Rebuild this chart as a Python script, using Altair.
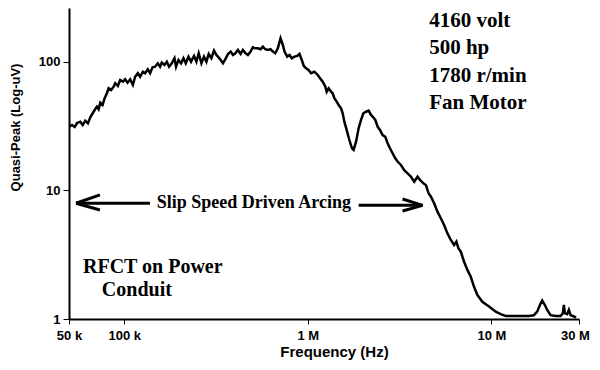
import altair as alt
import pandas as pd

# Spectrum trace (frequency in kHz, quasi-peak level in uV)
freq_khz = [50.2, 51.9, 53.7, 55.3, 57.6, 59.4, 61.3, 63.4, 65.3, 67.3, 69.0, 71.0, 72.5, 74.0, 76.2,
            78.2, 80.4, 82.2, 84.9, 87.5, 89.3, 92.3, 95.0, 98.3, 101.1, 104.2, 107.7, 111.4, 114.6,
            118.6, 122.0, 126.3, 129.9, 134.4, 138.3, 142.5, 147.2, 152.3, 156.7, 160.1, 165.6, 170.5,
            175.5, 181.5, 187.7, 191.5, 197.4, 203.9, 210.1, 216.3, 223.7, 231.1, 239.9, 247.2, 254.4,
            263.2, 271.9, 280.2, 288.4, 298.3, 308.2, 317.6, 324.0, 335.2, 345.0, 355.5, 367.3, 379.9,
            390.9, 402.8, 416.1, 430.4, 443.0, 458.2, 471.6, 487.7, 501.9, 517.3, 534.4, 552.8, 568.9,
            586.2, 605.6, 626.4, 644.7, 664.4, 686.4, 710.0, 730.8, 746.5, 772.2, 794.8, 818.0, 846.1,
            875.2, 900.6, 926.9, 950.4, 979.3, 1008, 1042, 1086, 1132, 1166, 1205, 1246, 1267, 1299,
            1338, 1366, 1395, 1436, 1472, 1517, 1548, 1581, 1627, 1683, 1741, 1776, 1831, 1891, 1949,
            2006, 2075, 2144, 2209, 2273, 2331, 2399, 2472, 2554, 2642, 2719, 2802, 2894, 2994, 3081,
            3215, 3351, 3492, 3645, 3799, 3960, 4081, 4253, 4400, 4546, 4684, 4875, 5082, 5302, 5525,
            5758, 6009, 6263, 6446, 6609, 6810, 7099, 7397, 7719, 8043, 8383, 8924, 9705, 10555, 11236,
            11960, 12990, 14720, 16010, 17040, 17760, 18370, 18910, 19560, 20130, 21000, 22360, 23810,
            24510, 24820, 25130, 25860, 26420, 26990, 27770, 28940]
level_uv = [31.4, 32.3, 31.2, 33.5, 34.3, 32.3, 34.9, 33.3, 37.1, 39.9, 42.3, 44.9, 42.9, 48.2, 46.3,
            52.2, 57.1, 62.4, 60.5, 64.2, 68.3, 65.0, 72.4, 70.3, 73.3, 69.0, 73.3, 66.2, 76.8,
            81.7, 76.8, 84.0, 81.7, 87.7, 81.7, 90.9, 91.9, 97.7, 91.9, 98.8, 94.8, 100.5,
            91.9, 97.7, 106.9, 91.9, 103.7, 97.7, 106.9, 97.7, 110.0, 100.5, 111.4, 100.5, 116.9,
            97.7, 110.0, 100.5, 115.4, 106.9, 122.5, 113.4, 110.0, 103.7, 97.7, 105.0, 115.4, 120.3,
            113.4, 116.9, 124.0, 115.4, 124.0, 116.9, 113.4, 120.3, 130.2, 127.8, 127.8, 125.6, 131.5,
            125.6, 124.0, 125.6, 120.3, 116.9, 127.8, 152.9, 135.6, 120.3, 110.0, 113.4, 106.9, 110.0,
            111.4, 115.4, 103.7, 93.1, 89.3, 86.6, 81.7, 84.0, 79.2, 74.7, 70.3, 64.2, 58.7, 62.4,
            58.7, 57.1, 52.2, 49.1, 46.3, 43.6, 39.9, 34.3, 29.6, 24.7, 21.3, 20.7, 24.0, 30.5, 35.4,
            39.9, 41.0, 41.8, 38.7, 37.1, 35.4, 31.4, 29.6, 27.0, 26.2, 23.3, 21.3, 19.5, 17.8, 16.8,
            15.8, 14.4, 13.6, 12.8, 11.7, 12.8, 12.1, 11.4, 11.0, 9.51, 8.95, 7.95, 6.84, 6.08, 5.39,
            4.64, 4.12, 3.77, 4.00, 3.55, 3.34, 2.79, 2.41, 2.13, 1.78, 1.54, 1.36, 1.25, 1.14, 1.09,
            1.055, 1.055, 1.055, 1.055, 1.07, 1.14, 1.285, 1.39, 1.285, 1.175, 1.07, 1.055, 1.055,
            1.11, 1.285, 1.11, 1.09, 1.175, 1.07, 1.055, 1.03]

# Axis ticks
x_tick_vals = [50, 100, 1000, 10000, 30000]
x_tick_labels = ["50 k", "100 k", "1 M", "10 M", "30 M"]
y_tick_vals = [1, 10, 100]
y_tick_labels = ["1", "10", "100"]

# Arrow segments (kHz, uV): shaft, upper wing, lower wing for each arrow
seg_x1 = [138, 54.6, 54.6, 1891, 4216, 4216]
seg_x2 = [54.6, 73.7, 73.7, 4216, 3280, 3280]
seg_y1 = [7.95, 7.95, 7.95, 7.66, 7.66, 7.66]
seg_y2 = [7.95, 9.23, 7.05, 7.66, 8.59, 6.93]

# Annotations
spec_text = ["4160 volt\n500 hp\n1780 r/min\nFan Motor"]
spec_x = [4580]
spec_y = [187.3]
slip_text = ["Slip Speed Driven Arcing"]
slip_x = [150.4]
slip_y = [7.31]
rfct_text = ["RFCT on Power", "Conduit"]
rfct_x = [59.6, 75.5]
rfct_y = [2.28, 1.51]


def label_expr(vals, labels):
    expr = "''"
    for v, l in reversed(list(zip(vals, labels))):
        expr = f"(abs(datum.value - {v}) < {v} * 0.001) ? '{l}' : {expr}"
    return expr


df = pd.DataFrame({"f": freq_khz, "v": level_uv})
seg = pd.DataFrame({"f": seg_x1, "f2": seg_x2, "v": seg_y1, "v2": seg_y2})
spec = pd.DataFrame({"f": spec_x, "v": spec_y, "t": spec_text})
slip = pd.DataFrame({"f": slip_x, "v": slip_y, "t": slip_text})
rfct = pd.DataFrame({"f": rfct_x, "v": rfct_y, "t": rfct_text})

xscale = alt.Scale(type="log", domain=[50, 30000], nice=False)
yscale = alt.Scale(type="log", domain=[1, 263], nice=False)

x_axis = alt.Axis(
    values=x_tick_vals, labelExpr=label_expr(x_tick_vals, x_tick_labels),
    title="Frequency (Hz)", titleX=265, titleY=37, titleAlign="center",
    titleBaseline="alphabetic", titleFontSize=15,
    tickSize=5, labelPadding=5, labelFontSize=13, labelFlush=False, labelOverlap=False,
    labelOffset={"condition": {"test": "datum.value > 20000", "value": -4}, "value": 0},
)
y_axis = alt.Axis(
    values=y_tick_vals, labelExpr=label_expr(y_tick_vals, y_tick_labels),
    title="Quasi-Peak (Log-uV)", titleX=-54, titleY=119, titleAngle=270,
    titleAlign="center", titleBaseline="middle", titleFontSize=13,
    tickSize=6, labelPadding=3, labelFontSize=13, labelFlush=False, labelOverlap=False,
)

X = alt.X("f:Q", scale=xscale, axis=x_axis)
Y = alt.Y("v:Q", scale=yscale, axis=y_axis)

line = alt.Chart(df).mark_line(color="black", strokeWidth=2.5).encode(x=X, y=Y)

arrows = alt.Chart(seg).mark_rule(color="black", strokeWidth=3).encode(
    x=X, x2="f2:Q", y=Y, y2="v2:Q",
)

serif = "Liberation Serif"
spec_txt = alt.Chart(spec).mark_text(
    font=serif, fontWeight="bold", fontSize=21, align="left", baseline="alphabetic",
    lineBreak="\n", lineHeight=27.5, color="black",
).encode(x=X, y=Y, text="t:N")

slip_txt = alt.Chart(slip).mark_text(
    font=serif, fontWeight="bold", fontSize=18, align="left", baseline="alphabetic", color="black",
).encode(x=X, y=Y, text="t:N")

rfct_txt = alt.Chart(rfct).mark_text(
    font=serif, fontWeight="bold", fontSize=20, align="left", baseline="alphabetic", color="black",
).encode(x=X, y=Y, text="t:N")

chart = alt.layer(line, arrows, spec_txt, slip_txt, rfct_txt).properties(
    width=510, height=311,
    padding={"left": 61, "top": 0, "right": 13, "bottom": 43},
    autosize="none",
    background="white",
).configure_view(stroke=None).configure_axis(
    grid=False, domainColor="black", domainWidth=2, tickColor="black", tickWidth=1,
    labelColor="black", titleColor="black",
    labelFont="Liberation Sans", titleFont="Liberation Sans",
    labelFontWeight="bold", titleFontWeight="bold",
)

chart.save("out.html", embed_options={"renderer": "svg", "actions": False})
